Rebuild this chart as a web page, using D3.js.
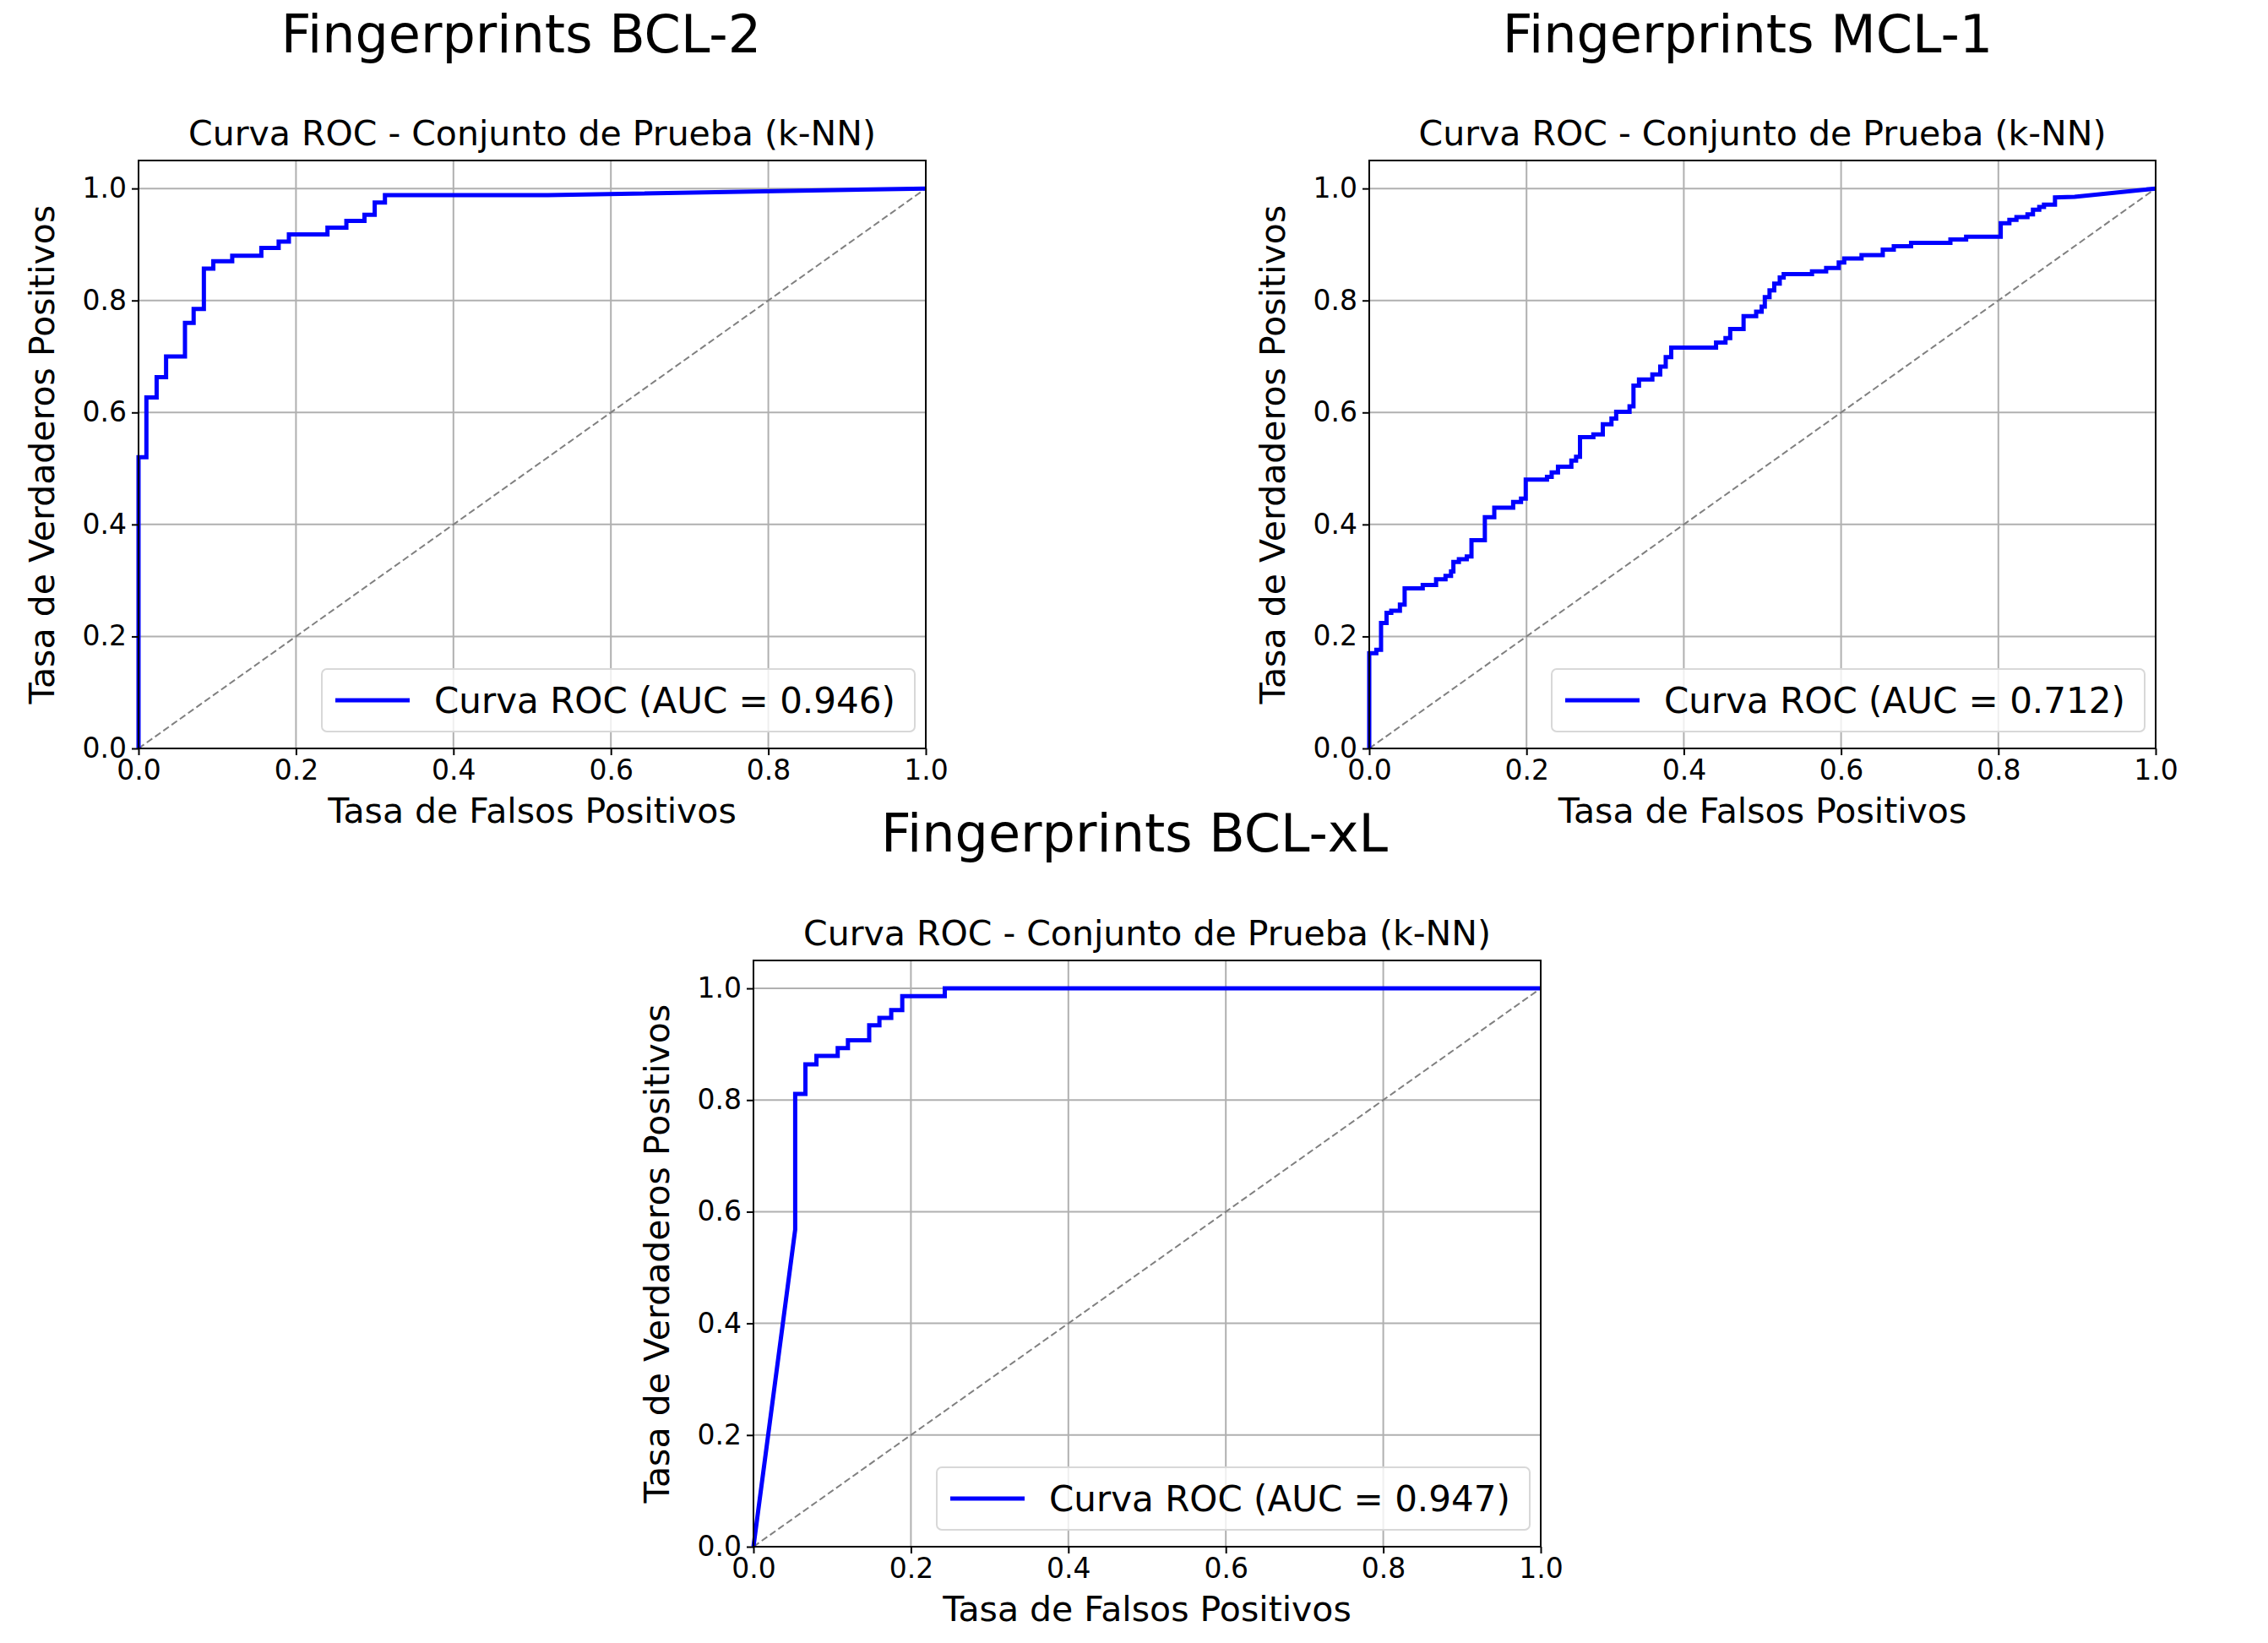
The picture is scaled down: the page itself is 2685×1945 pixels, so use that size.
<!DOCTYPE html>
<meta charset='utf-8'>
<html>
<head>
    <script src='https://d3js.org/d3.v7.min.js'></script>
    <style>
        html, body { margin: 0; padding: 0; background: white; }
        svg { display: block; font-family: 'DejaVu Sans', sans-serif; }
    </style>
</head>
<body>
<script>
    // ROC corner points [fpr, tpr]
    const rocBcl2 = [[0,0],[0,0.52],[0.010,0.52],[0.010,0.627],[0.023,0.627],[0.023,0.663],[0.035,0.663],[0.035,0.70],
        [0.059,0.70],[0.059,0.76],[0.070,0.76],[0.070,0.785],[0.083,0.785],[0.083,0.857],[0.095,0.857],[0.095,0.87],
        [0.119,0.87],[0.119,0.88],[0.156,0.88],[0.156,0.894],[0.178,0.894],[0.178,0.905],[0.191,0.905],[0.191,0.918],
        [0.240,0.918],[0.240,0.930],[0.264,0.930],[0.264,0.942],[0.287,0.942],[0.287,0.953],[0.300,0.953],[0.300,0.975],
        [0.313,0.975],[0.313,0.988],[0.52,0.988],[1,1]];

    const rocMcl1 = [[0,0],[0,0.170],[0.009,0.170],[0.009,0.176],[0.015,0.176],[0.015,0.224],[0.022,0.224],[0.022,0.242],
        [0.028,0.242],[0.028,0.246],[0.039,0.246],[0.039,0.257],[0.045,0.257],[0.045,0.286],[0.068,0.286],[0.068,0.292],
        [0.085,0.292],[0.085,0.302],[0.097,0.302],[0.097,0.308],[0.104,0.308],[0.104,0.316],[0.107,0.316],[0.107,0.333],
        [0.114,0.333],[0.114,0.338],[0.124,0.338],[0.124,0.343],[0.130,0.343],[0.130,0.372],[0.147,0.372],[0.147,0.413],
        [0.159,0.413],[0.159,0.430],[0.183,0.430],[0.183,0.440],[0.193,0.440],[0.193,0.446],[0.199,0.446],[0.199,0.480],
        [0.226,0.480],[0.226,0.485],[0.232,0.485],[0.232,0.493],[0.240,0.493],[0.240,0.503],[0.257,0.503],[0.257,0.514],
        [0.263,0.514],[0.263,0.521],[0.268,0.521],[0.268,0.556],[0.285,0.556],[0.285,0.561],[0.297,0.561],[0.297,0.579],
        [0.308,0.579],[0.308,0.589],[0.314,0.589],[0.314,0.601],[0.331,0.601],[0.331,0.611],[0.336,0.611],[0.336,0.648],
        [0.343,0.648],[0.343,0.659],[0.360,0.659],[0.360,0.668],[0.370,0.668],[0.370,0.682],[0.377,0.682],[0.377,0.699],
        [0.384,0.699],[0.384,0.716],[0.441,0.716],[0.441,0.725],[0.453,0.725],[0.453,0.733],[0.459,0.733],[0.459,0.749],
        [0.476,0.749],[0.476,0.772],[0.492,0.772],[0.492,0.780],[0.499,0.780],[0.499,0.789],[0.503,0.789],[0.503,0.806],
        [0.509,0.806],[0.509,0.818],[0.515,0.818],[0.515,0.830],[0.522,0.830],[0.522,0.841],[0.527,0.841],[0.527,0.847],
        [0.563,0.847],[0.563,0.852],[0.581,0.852],[0.581,0.858],[0.597,0.858],[0.597,0.868],[0.604,0.868],[0.604,0.875],
        [0.626,0.875],[0.626,0.881],[0.653,0.881],[0.653,0.891],[0.667,0.891],[0.667,0.897],[0.689,0.897],[0.689,0.903],
        [0.739,0.903],[0.739,0.909],[0.759,0.909],[0.759,0.914],[0.803,0.914],[0.803,0.938],[0.814,0.938],[0.814,0.944],
        [0.823,0.944],[0.823,0.949],[0.837,0.949],[0.837,0.954],[0.844,0.954],[0.844,0.962],[0.852,0.962],[0.852,0.967],
        [0.858,0.967],[0.858,0.971],[0.872,0.971],[0.872,0.984],[0.897,0.985],[1,1]];

    const rocBclxl = [[0,0],[0.053,0.568],[0.053,0.811],[0.066,0.811],[0.066,0.864],[0.080,0.864],[0.080,0.879],
        [0.107,0.879],[0.107,0.893],[0.120,0.893],[0.120,0.907],[0.147,0.907],[0.147,0.934],[0.160,0.934],[0.160,0.947],
        [0.175,0.947],[0.175,0.961],[0.189,0.961],[0.189,0.986],[0.243,0.986],[0.243,1],[1,1]];

    const panelTitles = ['Fingerprints BCL-2', 'Fingerprints MCL-1', 'Fingerprints BCL-xL'];
    const aucValues = ['0.946', '0.712', '0.947'];
    const tickValues = [0, 0.2, 0.4, 0.6, 0.8, 1.0];

    const width = 2685, height = 1945;
    const svg = d3.select('body').append('svg').attr('width', width).attr('height', height);

    // axes boxes: left, right, top, bottom (y=0)
    const panels = [
        { data: rocBcl2, x0: 164, x1: 1096, top: 190, bottom: 886, titleX: 617, titleY: 62 },
        { data: rocMcl1, x0: 1621, x1: 2552, top: 190, bottom: 886, titleX: 2069, titleY: 62 },
        { data: rocBclxl, x0: 892, x1: 1824, top: 1137, bottom: 1831, titleX: 1343, titleY: 1008 }
    ];

    panels.forEach(function (p, i) {
        const x = d3.scaleLinear().domain([0, 1]).range([p.x0, p.x1]);
        const y = d3.scaleLinear().domain([0, 1.05]).range([p.bottom, p.top]);
        const g = svg.append('g');

        // suptitle
        svg.append('text').attr('x', p.titleX).attr('y', p.titleY)
            .attr('text-anchor', 'middle').style('font-size', '62px').text(panelTitles[i]);

        // grid
        g.selectAll('.gx').data(tickValues).enter().append('line')
            .attr('x1', d => x(d)).attr('x2', d => x(d)).attr('y1', p.top).attr('y2', p.bottom)
            .attr('stroke', '#b0b0b0').attr('stroke-width', 2);
        g.selectAll('.gy').data(tickValues).enter().append('line')
            .attr('y1', d => y(d)).attr('y2', d => y(d)).attr('x1', p.x0).attr('x2', p.x1)
            .attr('stroke', '#b0b0b0').attr('stroke-width', 2);

        // diagonal
        g.append('line').attr('x1', x(0)).attr('y1', y(0)).attr('x2', x(1)).attr('y2', y(1))
            .attr('stroke', 'gray').attr('stroke-width', 2).attr('stroke-dasharray', '8,4');

        // ROC curve
        g.append('path').datum(p.data)
            .attr('d', d3.line().x(d => x(d[0])).y(d => y(d[1])))
            .attr('fill', 'none').attr('stroke', '#0000ff').attr('stroke-width', 5);

        // frame
        g.append('rect').attr('x', p.x0).attr('y', p.top).attr('width', p.x1 - p.x0).attr('height', p.bottom - p.top)
            .attr('fill', 'none').attr('stroke', 'black').attr('stroke-width', 2);

        // axes
        const fmt = d3.format('.1f');
        const xa = g.append('g').attr('transform', 'translate(0,' + p.bottom + ')')
            .call(d3.axisBottom(x).tickValues(tickValues).tickFormat(fmt).tickSize(8).tickPadding(6));
        const ya = g.append('g').attr('transform', 'translate(' + p.x0 + ',0)')
            .call(d3.axisLeft(y).tickValues(tickValues).tickFormat(fmt).tickSize(8).tickPadding(6));
        [xa, ya].forEach(a => {
            a.select('.domain').remove();
            a.selectAll('text').style('font-size', '33px').style('font-family', 'DejaVu Sans').attr('fill', 'black');
            a.selectAll('line').attr('stroke-width', 2);
        });

        // axes title and labels
        g.append('text').attr('x', (p.x0 + p.x1) / 2).attr('y', p.top - 18)
            .attr('text-anchor', 'middle').style('font-size', '41px').text('Curva ROC - Conjunto de Prueba (k-NN)');
        g.append('text').attr('x', (p.x0 + p.x1) / 2).attr('y', p.bottom + 88)
            .attr('text-anchor', 'middle').style('font-size', '41px').text('Tasa de Falsos Positivos');
        g.append('text').attr('transform', 'translate(' + (p.x0 - 100) + ',' + ((p.top + p.bottom) / 2) + ') rotate(-90)')
            .attr('text-anchor', 'middle').style('font-size', '41px').text('Tasa de Verdaderos Positivos');

        // legend
        const lw = 702, lh = 74;
        const lx = p.x1 - 13 - lw, ly = p.bottom - 20 - lh;
        g.append('rect').attr('x', lx).attr('y', ly).attr('width', lw).attr('height', lh).attr('rx', 6)
            .attr('fill', 'white').attr('fill-opacity', 0.8).attr('stroke', '#d8d8d8').attr('stroke-width', 2);
        g.append('line').attr('x1', lx + 16).attr('x2', lx + 104).attr('y1', ly + lh / 2).attr('y2', ly + lh / 2)
            .attr('stroke', '#0000ff').attr('stroke-width', 5);
        g.append('text').attr('x', lx + 133).attr('y', ly + lh / 2 + 15).style('font-size', '42px')
            .text('Curva ROC (AUC = ' + aucValues[i] + ')');
    });
</script>
</body>
</html>
